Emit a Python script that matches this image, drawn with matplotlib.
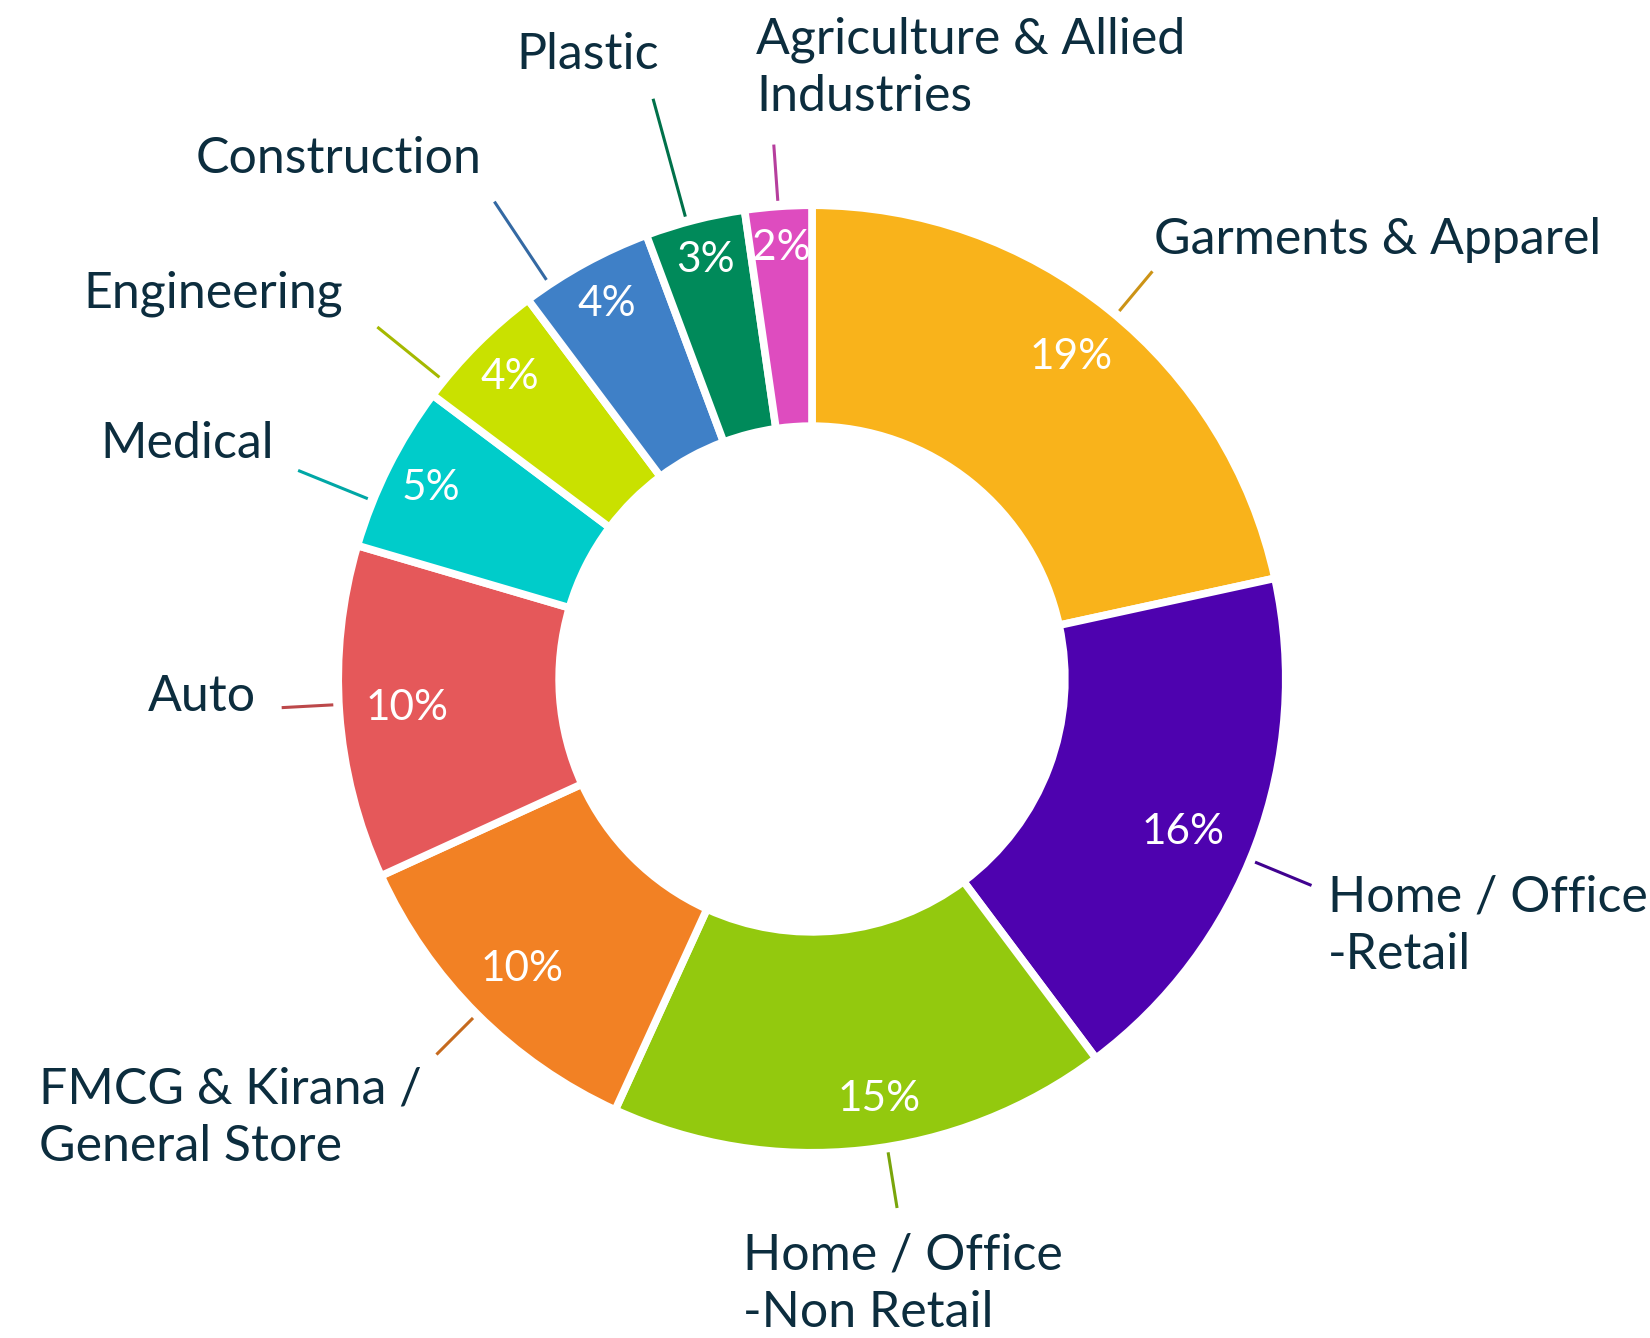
"""Donut chart: share of customers by industry segment."""
import matplotlib
matplotlib.use("Agg")
import matplotlib.pyplot as plt
import matplotlib.colors as mcolors
import numpy as np

# data, clockwise from 12 o'clock
SEGMENTS = ["Garments & Apparel", "Home / Office\n-Retail", "Home / Office\n-Non Retail",
            "FMCG & Kirana /\nGeneral Store", "Auto", "Medical", "Engineering",
            "Construction", "Plastic", "Agriculture & Allied\nIndustries"]
SHARES = [19, 16, 15, 10, 10, 5, 4, 4, 3, 2]
COLORS = ["#F9B31B", "#4E02AF", "#93C90E", "#F28124", "#E5585A",
          "#00CCCA", "#C9E100", "#3F80C7", "#008A5A", "#DE4CBF"]

# layout (pixel positions of the outer labels in the 1650x1338 canvas)
W, H = 1650, 1338
CX, CY, R = 812, 679, 470
LABEL_PX = [(1154, 240), (1328, 926), (743, 1284), (39, 1118), (148, 697),
            (100, 444), (83, 294), (196, 159), (516, 55), (756, 68)]
LEADER_END = [1.13, 1.15, 1.14, 1.13, 1.13, 1.18, 1.19, 1.22, 1.28, 1.14]
LEADER_SHIFT = [1, 2, -3, 0, 1, -4.5, -6, -5, -1, 0]   # deg, clockwise
PCT_R = [0.88, 0.855, 0.905, 0.873, 0.864, 0.906, 0.91, 0.91, 0.92, 0.92]
PCT_SHIFT = [0, 2, -3, 0, 0, 0, 0, 0, 0, 0]              # deg, clockwise
TEXT_COLOR = "#0C2D3E"

plt.rcParams["font.family"] = ["Lato", "DejaVu Sans"]


def px(x, y):
    return (x - CX) / R, (CY - y) / R


def darker(c, f=0.82):
    r, g, b = mcolors.to_rgb(c)
    return (r * f, g * f, b * f)


fig = plt.figure(figsize=(W / 100, H / 100), dpi=100)
ax = fig.add_axes([0, 0, 1, 1])

wedges, _ = ax.pie(SHARES, colors=COLORS, startangle=90, counterclock=False,
                   radius=1.008,
                   wedgeprops=dict(width=0.47, edgecolor="white", linewidth=5.5,
                                   joinstyle="round"))
# pie() resets the limits, so set them afterwards
ax.set_xlim(-CX / R, (W - CX) / R)
ax.set_ylim(-(H - CY) / R, CY / R)
ax.set_aspect("equal")
ax.axis("off")

for i, (w, val, name) in enumerate(zip(wedges, SHARES, SEGMENTS)):
    mid = np.deg2rad((w.theta1 + w.theta2) / 2)
    # percentage inside the ring
    p = mid - np.deg2rad(PCT_SHIFT[i])
    ax.text(PCT_R[i] * np.cos(p), PCT_R[i] * np.sin(p), f"{val}%",
            color="white", fontsize=30.5, ha="center", va="center")
    # leader line
    a = mid - np.deg2rad(LEADER_SHIFT[i])
    ca, sa = np.cos(a), np.sin(a)
    ax.plot([1.02 * ca, LEADER_END[i] * ca], [1.02 * sa, LEADER_END[i] * sa],
            color=darker(COLORS[i]), lw=2.2, solid_capstyle="butt")
    tx, ty = px(*LABEL_PX[i])
    ax.text(tx, ty, name, color=TEXT_COLOR, fontsize=36, ha="left",
            va="center", linespacing=1.3)

fig.savefig("out.png", dpi=100, facecolor="white")
